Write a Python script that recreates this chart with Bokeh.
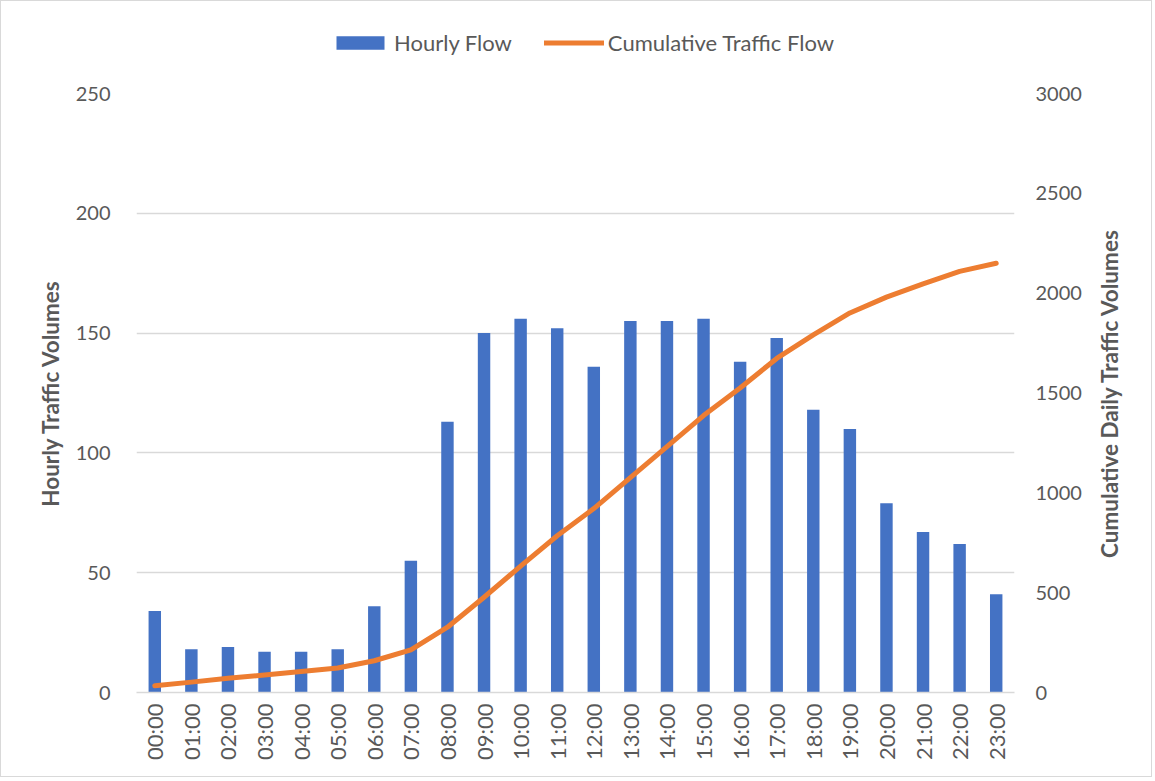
from math import pi
from bokeh.plotting import figure
from bokeh.layouts import column, row
from bokeh.models import (ColumnDataSource, Range1d, LinearAxis, FixedTicker,
                          Legend, LegendItem, FactorRange, Label)
from bokeh.embed import file_html
from bokeh.resources import INLINE

hours = ["00:00", "01:00", "02:00", "03:00", "04:00", "05:00", "06:00", "07:00",
         "08:00", "09:00", "10:00", "11:00", "12:00", "13:00", "14:00", "15:00",
         "16:00", "17:00", "18:00", "19:00", "20:00", "21:00", "22:00", "23:00"]
hourly_flow = [34, 18, 19, 17, 17, 18, 36, 55, 113, 150, 156, 152, 136, 155,
               155, 156, 138, 148, 118, 110, 79, 67, 62, 41]
cumulative_flow = [34, 52, 71, 88, 105, 123, 159, 214, 327, 477, 633, 785, 921,
                   1076, 1231, 1387, 1525, 1673, 1791, 1901, 1980, 2047, 2109, 2150]
left_ticks = [0, 50, 100, 150, 200, 250]
right_ticks = [0, 500, 1000, 1500, 2000, 2500, 3000]

FONT = "Lato"
GREY = "#595959"
GRID = "#d9d9d9"
BLUE = "#4472C4"
ORANGE = "#ED7D31"

src = ColumnDataSource(dict(hour=hours, flow=hourly_flow, cum=cumulative_flow))

# ---------------- main chart ----------------
p = figure(x_range=FactorRange(*hours), y_range=Range1d(0, 250),
           frame_width=878, frame_height=599,
           min_border_left=135, min_border_right=77,
           min_border_top=14, min_border_bottom=84,
           output_backend="svg", toolbar_location=None)
p.extra_y_ranges = {"cum": Range1d(0, 3000)}
p.outline_line_color = None
p.background_fill_color = "white"
p.border_fill_color = "white"

p.vbar(x="hour", top="flow", width=0.34, source=src,
       fill_color=BLUE, line_color=None)
p.line(x="hour", y="cum", source=src, y_range_name="cum",
       line_color=ORANGE, line_width=5, line_join="round", line_cap="round")

# left axis
ya = p.yaxis[0]
ya.ticker = FixedTicker(ticks=left_ticks)
ya.axis_label = "Hourly Traffic Volumes"
ya.axis_line_color = None
ya.major_tick_line_color = None
ya.minor_tick_line_color = None
ya.major_label_standoff = 20
ya.axis_label_standoff = 9
ya.major_label_text_font = FONT
ya.major_label_text_font_size = "20px"
ya.major_label_text_color = GREY
ya.axis_label_text_font = FONT
ya.axis_label_text_font_size = "22.5px"
ya.axis_label_text_font_style = "bold"
ya.axis_label_text_color = GREY

# right axis (its title is drawn in the strip to the right)
ra = LinearAxis(y_range_name="cum", ticker=FixedTicker(ticks=right_ticks))
ra.axis_line_color = None
ra.major_tick_line_color = None
ra.minor_tick_line_color = None
ra.major_label_standoff = 15
ra.major_label_text_font = FONT
ra.major_label_text_font_size = "20px"
ra.major_label_text_color = GREY
p.add_layout(ra, "right")

# bottom axis
xa = p.xaxis[0]
xa.axis_line_color = GRID
xa.axis_line_width = 1.5
xa.major_tick_line_color = None
xa.minor_tick_line_color = None
xa.major_label_orientation = pi / 2
xa.major_label_standoff = 5
xa.major_label_text_font = FONT
xa.major_label_text_font_size = "22px"
xa.major_label_text_color = GREY

p.xgrid.grid_line_color = None
p.ygrid.grid_line_color = GRID
p.ygrid.grid_line_width = 1.5
p.ygrid.ticker = FixedTicker(ticks=left_ticks)

# ---------------- right title strip ----------------
tf = figure(frame_width=60, frame_height=599,
            x_range=Range1d(0, 60), y_range=Range1d(0, 599),
            x_axis_type=None, y_axis_type=None,
            min_border_left=0, min_border_right=0,
            min_border_top=14, min_border_bottom=84,
            output_backend="svg", toolbar_location=None)
tf.outline_line_color = None
tf.border_fill_color = "white"
tf.grid.visible = False
tf.add_layout(Label(x=18, y=299.5, text="Cumulative Daily Traffic Volumes",
                    angle=pi / 2, text_align="center", text_baseline="middle",
                    text_font=FONT, text_font_size="22.5px",
                    text_font_style="bold", text_color=GREY))

# ---------------- legend strip ----------------
lg = figure(frame_width=1150, frame_height=78,
            x_range=Range1d(0, 1), y_range=Range1d(0, 1),
            x_axis_type=None, y_axis_type=None,
            min_border_left=0, min_border_right=0,
            min_border_top=0, min_border_bottom=0,
            output_backend="svg", toolbar_location=None)
lg.outline_line_color = None
lg.border_fill_color = "white"
lg.grid.visible = False
offscreen = ColumnDataSource(dict(x=[5], y=[5]))
r_bar = lg.vbar(x="x", top="y", width=0.3, source=offscreen,
                fill_color=BLUE, line_color=None)
r_line = lg.line(x="x", y="y", source=offscreen, line_color=ORANGE, line_width=5,
                 line_cap="round")
legend = Legend(items=[LegendItem(label="Hourly Flow", renderers=[r_bar]),
                       LegendItem(label="Cumulative Traffic Flow", renderers=[r_line])],
                orientation="horizontal", location=(329, 23),
                glyph_width=60, glyph_height=17, spacing=32, label_standoff=4,
                padding=0, margin=0, border_line_alpha=0, background_fill_alpha=0,
                label_text_font=FONT, label_text_font_size="22px",
                label_text_color=GREY)
lg.add_layout(legend, "center")

layout = column(lg, row(p, tf, spacing=0), spacing=0)
layout.styles = {"border": "1px solid #d9d9d9"}

open("out.html", "w").write(file_html(layout, INLINE))
